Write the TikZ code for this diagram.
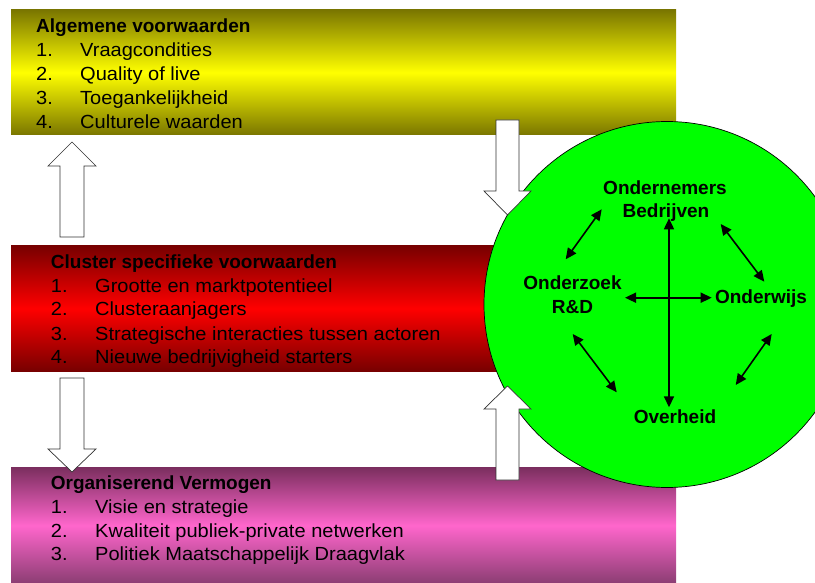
\documentclass[tikz,border=0pt]{standalone}
\usepackage{fontspec}
\setmainfont{Liberation Sans}
\newfontfamily\itemfont[FakeStretch=1.055]{Liberation Sans}
\usetikzlibrary{arrows.meta}
\definecolor{oliveD}{RGB}{122,118,0}
\definecolor{yel}{RGB}{255,255,0}
\definecolor{redD}{RGB}{120,0,0}
\definecolor{redM}{RGB}{255,0,0}
\definecolor{magT}{RGB}{122,46,94}
\definecolor{magM}{RGB}{255,102,204}
\definecolor{magB}{RGB}{138,61,114}
\definecolor{grn}{RGB}{0,255,0}
\begin{document}
\begin{tikzpicture}[x=1pt,y=-1pt,
  band/.style={anchor=north west,inner sep=0,outer sep=0,minimum width=665pt,draw=none},
  txt/.style={anchor=base west,inner sep=0,font=\itemfont\fontsize{19}{23}\selectfont},
  hdr/.style={anchor=base west,inner sep=0,font=\fontsize{19}{23}\selectfont\bfseries},
  lbl/.style={anchor=base,inner sep=0,font=\fontsize{19}{23}\selectfont\bfseries},
  blockarrow/.style={fill=white,draw=black!80,line width=0.7pt,line join=miter},
  conn/.style={line width=1.6pt,{Triangle[length=11pt,width=10pt]}-{Triangle[length=11pt,width=10pt]}}]
\useasboundingbox (0,0) rectangle (815,583);
\clip (0,0) rectangle (815,583);
% bands
\node[band,minimum height=125pt,top color=oliveD,bottom color=oliveD,middle color=yel] (yband) at (11,10) {};
\node[band,minimum height=125pt,top color=redD,bottom color=redD,middle color=redM] (rband) at (11,246) {};
\node[band,minimum height=117pt,top color=magT,bottom color=magB,middle color=magM] (mband) at (11,467) {};
% green circle
\node[circle,fill=grn,draw=black,line width=0.7pt,minimum size=366pt,inner sep=0] (circ) at (667,304.5) {};
% block arrows
\draw[blockarrow] (60,237) -- (60,166) -- (48,166) -- (72,142) -- (96,166) -- (84,166) -- (84,237) -- cycle;
\draw[blockarrow] (60,378) -- (60,449) -- (48,449) -- (72,472) -- (96,449) -- (84,449) -- (84,378) -- cycle;
\draw[blockarrow] (496,120) -- (496,191) -- (484,191) -- (507.5,215) -- (531,191) -- (519,191) -- (519,120) -- cycle;
\draw[blockarrow] (496,480) -- (496,409) -- (484,409) -- (507.5,386) -- (531,409) -- (519,409) -- (519,480) -- cycle;
% yellow text
\node[hdr] (y0) at (36,32.5) {Algemene voorwaarden};
\node[txt] (y1n) at (36,56.7) {1.};
\node[txt] (y1) at (80,56.7) {Vraagcondities};
\node[txt] (y2n) at (36,80.7) {2.};
\node[txt] (y2) at (80,80.7) {Quality of live};
\node[txt] (y3n) at (36,104.7) {3.};
\node[txt] (y3) at (80,104.7) {Toegankelijkheid};
\node[txt] (y4n) at (36,128.5) {4.};
\node[txt] (y4) at (80,128.5) {Culturele waarden};
% red text
\node[hdr] (r0) at (50.7,268.3) {Cluster specifieke voorwaarden};
\node[txt] (r1n) at (50.7,292.3) {1.};
\node[txt] (r1) at (95,292.3) {Grootte en marktpotentieel};
\node[txt] (r2n) at (50.7,316) {2.};
\node[txt] (r2) at (95,316) {Clusteraanjagers};
\node[txt] (r3n) at (50.7,340) {3.};
\node[txt] (r3) at (95,340) {Strategische interacties tussen actoren};
\node[txt] (r4n) at (50.7,363.5) {4.};
\node[txt] (r4) at (95,363.5) {Nieuwe bedrijvigheid starters};
% magenta text
\node[hdr] (m0) at (50.7,489.3) {Organiserend Vermogen};
\node[txt] (m1n) at (50.7,513.3) {1.};
\node[txt] (m1) at (95,513.3) {Visie en strategie};
\node[txt] (m2n) at (50.7,537) {2.};
\node[txt] (m2) at (95,537) {Kwaliteit publiek-private netwerken};
\node[txt] (m3n) at (50.7,560.7) {3.};
\node[txt] (m3) at (95,560.7) {Politiek Maatschappelijk Draagvlak};
% circle labels
\node[lbl] (ond1) at (665,195) {Ondernemers};
\node[lbl] (ond2) at (666,218) {Bedrijven};
\node[lbl] (onz1) at (572.5,290) {Onderzoek};
\node[lbl] (onz2) at (572.5,313.3) {R\&D};
\node[lbl] (onw) at (761,304) {Onderwijs};
\node[lbl] (ovh) at (675,423.3) {Overheid};
% connector end points
\coordinate (vt) at (669,218.3);
\coordinate (vb) at (669,407.3);
\coordinate (hl) at (625,297.7);
\coordinate (hr) at (711.7,297.7);
\coordinate (ula) at (601.7,209.3);
\coordinate (ulb) at (565.7,259.3);
\coordinate (ura) at (720.7,224);
\coordinate (urb) at (764.3,281.7);
\coordinate (lla) at (572.7,334);
\coordinate (llb) at (616.7,392.3);
\coordinate (lra) at (771.7,334);
\coordinate (lrb) at (735.7,385);
\draw[conn] (vt) -- (vb);
\draw[conn] (hl) -- (hr);
\draw[conn] (ula) -- (ulb);
\draw[conn] (ura) -- (urb);
\draw[conn] (lla) -- (llb);
\draw[conn] (lra) -- (lrb);
\end{tikzpicture}
\end{document}
